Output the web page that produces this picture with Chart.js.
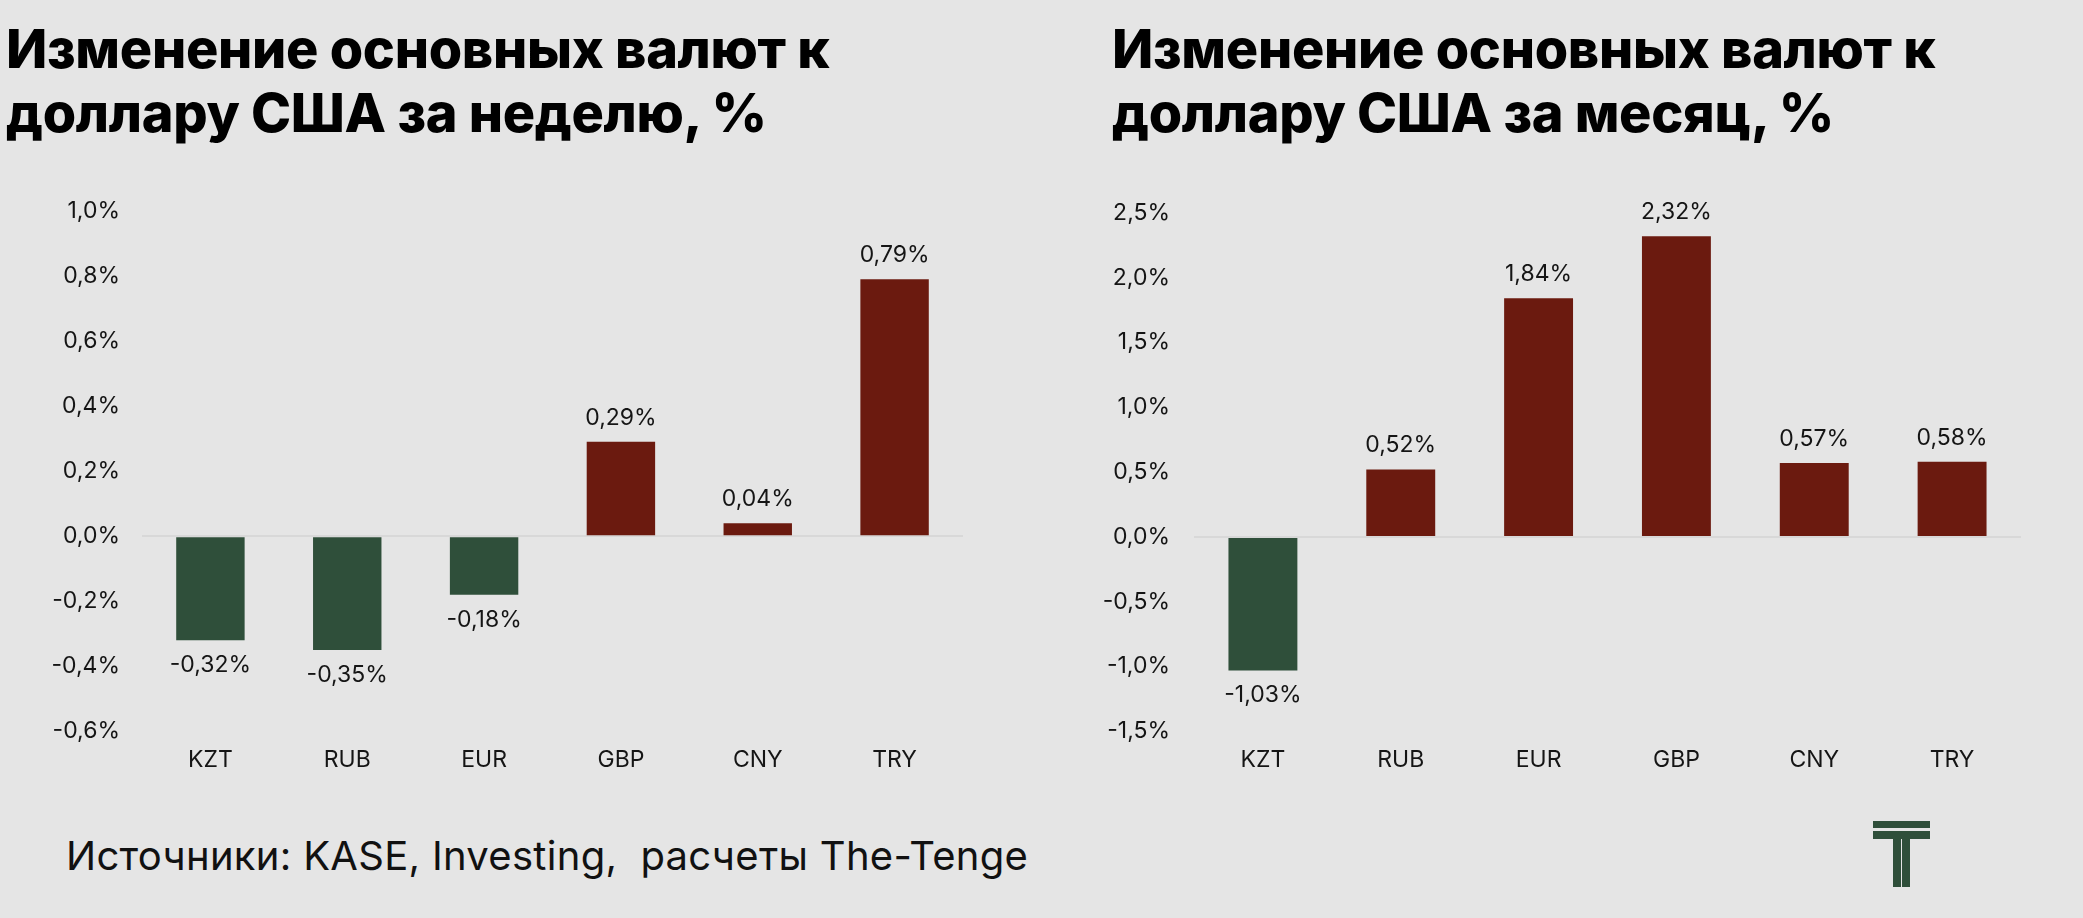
<!DOCTYPE html>
<html>
<head>
<meta charset="utf-8">
<script src="https://cdn.jsdelivr.net/npm/chart.js@4"></script>
<style>
  html, body { margin: 0; padding: 0; background: #e5e5e5; }
  body { width: 2083px; height: 918px; position: relative; overflow: hidden; font-family: Inter, sans-serif; }
  .title { position: absolute; top: 17px; font-weight: 800; font-size: 54px; line-height: 64px; color: #000; letter-spacing: -0.3px; }
  .box { position: absolute; top: 175px; height: 620px; width: 1041px; }
  .source { position: absolute; left: 66px; top: 832px; font-size: 40px; line-height: 48px; color: #111; white-space: pre; letter-spacing: 0.3px; }
</style>
</head>
<body>
<div class="title" style="left:6px">Изменение основных валют к<br>доллару США за неделю, %</div>
<div class="title" style="left:1112px">Изменение основных валют к<br>доллару США за месяц, %</div>
<div class="box" style="left:0"><canvas id="week"></canvas></div>
<div class="box" style="left:1041px"><canvas id="month"></canvas></div>
<div class="source">Источники: KASE, Investing,  расчеты The-Tenge</div>
<svg style="position:absolute;left:1873px;top:820px" width="58" height="68">
  <rect x="0" y="1" width="57" height="7" fill="#2f4f3a"/>
  <rect x="0" y="11" width="57" height="8" fill="#2f4f3a"/>
  <rect x="20" y="11" width="8" height="56" fill="#2f4f3a"/>
  <rect x="29" y="11" width="8" height="56" fill="#2f4f3a"/>
</svg>
<script>
var currencies = ["KZT", "RUB", "EUR", "GBP", "CNY", "TRY"];
var weekValues = [-0.32, -0.35, -0.18, 0.29, 0.04, 0.79];
var monthValues = [-1.03, 0.52, 1.84, 2.32, 0.57, 0.58];
var weekTicks = { min: -0.6, max: 1.0, step: 0.2 };
var monthTicks = { min: -1.5, max: 2.5, step: 0.5 };

var GREEN = "#2f4f3a";
var RED = "#6b1a0f";

function pct(v, d) {
  return v.toFixed(d).replace(".", ",") + "%";
}

var valueLabels = {
  id: "valueLabels",
  afterDatasetsDraw: function(chart) {
    var ctx = chart.ctx;
    var vals = chart.data.datasets[0].data;
    ctx.save();
    ctx.font = "400 23px Inter";
    ctx.fillStyle = "#151515";
    ctx.textAlign = "center";
    ctx.textBaseline = "middle";
    chart.getDatasetMeta(0).data.forEach(function(bar, i) {
      var v = vals[i];
      var y = v >= 0 ? bar.y - 24 : bar.y + 25;
      ctx.fillText(pct(v, 2), bar.x, y);
    });
    ctx.restore();
  }
};

function makeChart(id, values, t, axisWidth, padRight, tickPad) {
  new Chart(document.getElementById(id), {
    type: "bar",
    data: {
      labels: currencies,
      datasets: [{
        data: values,
        backgroundColor: values.map(function(v) { return v < 0 ? GREEN : RED; }),
        barPercentage: 0.5,
        categoryPercentage: 1.0
      }]
    },
    options: {
      responsive: true,
      maintainAspectRatio: false,
      animation: false,
      layout: { padding: { top: 22, right: padRight, bottom: 14, left: 0 } },
      plugins: { legend: { display: false }, tooltip: { enabled: false } },
      scales: {
        x: {
          grid: { display: false },
          border: { display: false },
          ticks: { color: "#151515", font: { family: "Inter", size: 23 }, padding: 7 }
        },
        y: {
          min: t.min,
          max: t.max,
          border: { display: false },
          grid: {
            drawTicks: false,
            color: function(c) { return c.tick && Math.abs(c.tick.value) < 1e-9 ? "#d8d8d8" : "rgba(0,0,0,0)"; },
            lineWidth: 2
          },
          ticks: {
            stepSize: t.step,
            padding: tickPad,
            color: "#151515",
            font: { family: "Inter", size: 23 },
            callback: function(v) { return pct(v, 1); }
          },
          afterFit: function(scale) { scale.width = axisWidth; }
        }
      }
    },
    plugins: [valueLabels]
  });
}

makeChart("week", weekValues, weekTicks, 142, 78, 22);
makeChart("month", monthValues, monthTicks, 153, 61, 24);
</script>
</body>
</html>
